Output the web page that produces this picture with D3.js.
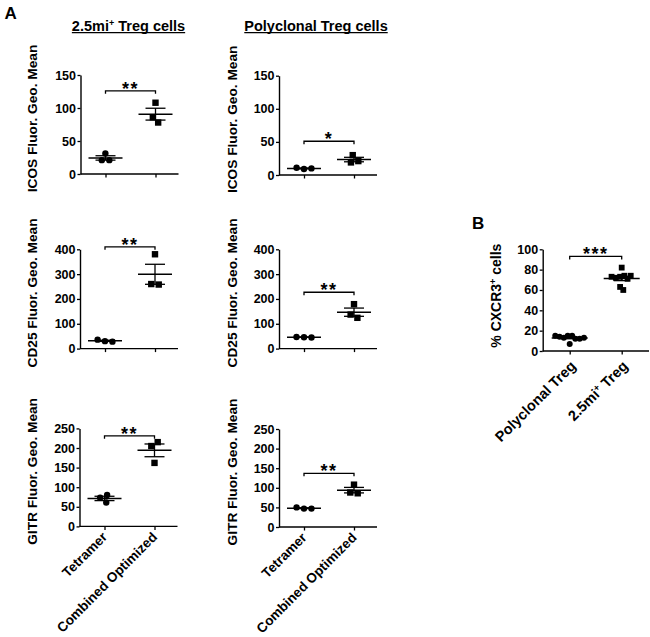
<!DOCTYPE html>
<html><head><meta charset="utf-8">
<script src="https://cdn.jsdelivr.net/npm/d3@7"></script>
<style>
body{margin:0;background:#fff}
svg{display:block}
text{font-family:Arial,"Liberation Sans",sans-serif;font-weight:bold;fill:#000}
</style>
</head><body>
<svg id="chart" width="650" height="637"></svg>
<script>
// ---------- data ----------
const groupsA = ["Tetramer", "Combined Optimized"];
const groupsB = ["Polyclonal Treg", "2.5mi+ Treg"];
const columnTitles = ["2.5mi+ Treg cells", "Polyclonal Treg cells"];
const markerTitles = ["ICOS Fluor. Geo. Mean", "CD25 Fluor. Geo. Mean", "GITR Fluor. Geo. Mean"];

const icosTregTetramer = [31, 21, 21];
const icosTregCombined = [108, 78, 86];
const icosPolyTetramer = [9, 11, 10];
const icosPolyCombined = [30, 19, 21];
const cd25TregTetramer = [30, 36, 28];
const cd25TregCombined = [380, 258, 260];
const cd25PolyTetramer = [46, 47, 45];
const cd25PolyCombined = [179, 124, 137];
const gitrTregTetramer = [80, 73, 61];
const gitrTregCombined = [215, 205, 162];
const gitrPolyTetramer = [47, 50, 47];
const gitrPolyCombined = [108, 86, 88];
const cxcr3Polyclonal = [15, 13, 15, 12, 14, 12, 15, 13, 7];
const cxcr3Treg = [82, 73, 72, 74, 71, 73, 74, 60, 63];

const yTicksICOS = [0, 50, 100, 150];
const yTicksCD25 = [0, 100, 200, 300, 400];
const yTicksGITR = [0, 50, 100, 150, 200, 250];
const yTicksCXCR3 = [0, 20, 40, 60, 80, 100];

const sigLabelsA = ["**", "*", "**", "**", "**", "**"];
const sigLevelsA = [126, 51, 410, 227, 231, 137];
const sigLabelB = "***";
const sigLevelB = 93;

// ---------- layout ----------
const svg = d3.select("#chart");
const panels = [
  {g:[icosTregTetramer, icosTregCombined], ticks:yTicksICOS, title:markerTitles[0], sig:sigLabelsA[0], lvl:sigLevelsA[0], ax:80.5, yb:174, yt:75, tx:37},
  {g:[icosPolyTetramer, icosPolyCombined], ticks:yTicksICOS, title:markerTitles[0], sig:sigLabelsA[1], lvl:sigLevelsA[1], ax:279, yb:175, yt:75.7, tx:237},
  {g:[cd25TregTetramer, cd25TregCombined], ticks:yTicksCD25, title:markerTitles[1], sig:sigLabelsA[2], lvl:sigLevelsA[2], ax:80, yb:348.6, yt:249.3, tx:37},
  {g:[cd25PolyTetramer, cd25PolyCombined], ticks:yTicksCD25, title:markerTitles[1], sig:sigLabelsA[3], lvl:sigLevelsA[3], ax:279, yb:348.6, yt:249.3, tx:237},
  {g:[gitrTregTetramer, gitrTregCombined], ticks:yTicksGITR, title:markerTitles[2], sig:sigLabelsA[4], lvl:sigLevelsA[4], ax:79.5, yb:526.4, yt:428.4, tx:37, labels:true},
  {g:[gitrPolyTetramer, gitrPolyCombined], ticks:yTicksGITR, title:markerTitles[2], sig:sigLabelsA[5], lvl:sigLevelsA[5], ax:279, yb:527, yt:429, tx:237, labels:true}
];

function beeswarm(values, y, d) {
  const placed = [];
  values.forEach(v => {
    const py = y(v);
    const cands = [0];
    placed.forEach(p => {
      const dy = Math.abs(p.py - py);
      if (dy < d) {
        const dx = Math.sqrt(d * d - dy * dy);
        cands.push(p.dx - dx, p.dx + dx);
      }
    });
    cands.sort((a, b) => (Math.abs(a) - Math.abs(b)) || (a - b));
    const ok = c => placed.every(p => Math.hypot(p.dx - c, p.py - py) >= d - 0.05);
    placed.push({v, py, dx: cands.find(ok)});
  });
  // center connected clusters
  const parent = placed.map((_, i) => i);
  const find = i => parent[i] === i ? i : (parent[i] = find(parent[i]));
  for (let i = 0; i < placed.length; i++)
    for (let j = i + 1; j < placed.length; j++)
      if (Math.hypot(placed[i].dx - placed[j].dx, placed[i].py - placed[j].py) < d + 0.5)
        parent[find(i)] = find(j);
  const groups = d3.group(placed.map((p, i) => i), i => find(i));
  groups.forEach(idx => {
    const m = d3.mean(idx, i => placed[i].dx);
    idx.forEach(i => placed[i].dx -= m);
  });
  return placed;
}

function addSup(textSel, str, supSize) {
  const parts = str.split("+");
  textSel.append("tspan").text(parts[0]);
  if (parts.length > 1) {
    textSel.append("tspan").attr("font-size", supSize).attr("dy", -5).text("+");
    textSel.append("tspan").attr("dy", 5).text(parts[1]);
  }
}

function drawPanel(p, opts) {
  const {cats, catOff, xEnd, d, r, sq, meanHW, capHW, labelSize, labelDx, labelDy, tickSize, titleSize, titleDy, starSize} = opts;
  const top = p.ticks[p.ticks.length - 1];
  const y = d3.scaleLinear().domain([0, top]).range([p.yb, p.yt]);
  const x = d3.scalePoint().domain(cats).range([p.ax + catOff[0], p.ax + catOff[1]]);
  const g = svg.append("g");

  // y axis
  const yAx = g.append("g").attr("transform", `translate(${p.ax},0)`)
    .call(d3.axisLeft(y).tickValues(p.ticks).tickSize(3).tickPadding(1.5).tickSizeOuter(0));
  yAx.select(".domain").attr("stroke-width", 1.4);
  yAx.selectAll(".tick line").attr("stroke-width", 1.3);
  yAx.selectAll("text").attr("font-size", tickSize).attr("font-family", "Arial, 'Liberation Sans', sans-serif").attr("font-weight", "bold");

  // x axis
  const xAx = g.append("g").attr("transform", `translate(0,${p.yb})`)
    .call(d3.axisBottom(x).tickSize(3.5).tickFormat(""));
  xAx.select(".domain").remove();
  g.append("line").attr("x1", p.ax).attr("x2", xEnd).attr("y1", p.yb).attr("y2", p.yb)
    .attr("stroke", "#000").attr("stroke-width", 1.4);
  xAx.selectAll(".tick line").attr("stroke-width", 1.3);

  // points
  p.g.forEach((vals, gi) => {
    const cx = x(cats[gi]);
    const pts = beeswarm(vals, y, d);
    if (gi === 0) {
      g.selectAll(null).data(pts).enter().append("circle")
        .attr("cx", q => cx + q.dx).attr("cy", q => q.py).attr("r", r).attr("fill", "#000");
    } else {
      g.selectAll(null).data(pts).enter().append("rect")
        .attr("x", q => cx + q.dx - sq / 2).attr("y", q => q.py - sq / 2)
        .attr("width", sq).attr("height", sq).attr("fill", "#000");
    }
    const m = d3.mean(vals);
    const sem = d3.deviation(vals) / Math.sqrt(vals.length);
    const lg = g.append("g").attr("stroke", "#000");
    lg.append("line").attr("x1", cx - meanHW).attr("x2", cx + meanHW).attr("y1", y(m)).attr("y2", y(m)).attr("stroke-width", 1.5);
    lg.append("line").attr("x1", cx).attr("x2", cx).attr("y1", y(m + sem)).attr("y2", y(m - sem)).attr("stroke-width", 1.3);
    [m + sem, m - sem].forEach(v =>
      lg.append("line").attr("x1", cx - capHW).attr("x2", cx + capHW).attr("y1", y(v)).attr("y2", y(v)).attr("stroke-width", 1.3));
  });

  // significance bracket
  const by = y(p.lvl), bx1 = x(cats[0]), bx2 = x(cats[1]);
  g.append("path").attr("d", `M${bx1},${by + 3}V${by}H${bx2}V${by + 3}`)
    .attr("fill", "none").attr("stroke", "#000").attr("stroke-width", 1.3);
  g.append("text").attr("x", (bx1 + bx2) / 2).attr("y", by + 3.8).attr("text-anchor", "middle")
    .attr("font-size", starSize).attr("letter-spacing", 1.5).text(p.sig);

  // y title
  const cy = (p.yb + p.yt) / 2 + titleDy;
  const t = g.append("text").attr("transform", `translate(${p.tx},${cy}) rotate(-90)`)
    .attr("text-anchor", "middle").attr("font-size", titleSize);
  addSup(t, p.title, 9);

  // x labels
  if (p.labels) {
    cats.forEach(c => {
      const axp = x(c) + labelDx, ayp = p.yb + labelDy;
      const lt = g.append("text").attr("transform", `translate(${axp},${ayp}) rotate(-45)`)
        .attr("text-anchor", "end").attr("font-size", labelSize);
      addSup(lt, c, 9.5);
    });
  }
}

const optsA = {cats: groupsA, catOff: [25, 75], d: 7.5, r: 3.2, sq: 6.4, meanHW: 17, capHW: 10,
  labelSize: 13.5, labelDx: 3.5, labelDy: 11.5, tickSize: 12.5, titleSize: 13.7, titleDy: -6, starSize: 18};
panels.forEach(p => drawPanel(p, Object.assign({}, optsA, {xEnd: p.ax + 98})));

drawPanel({g: [cxcr3Polyclonal, cxcr3Treg], ticks: yTicksCXCR3, title: "% CXCR3+ cells", sig: sigLabelB, lvl: sigLevelB,
  ax: 542.7, yb: 351, yt: 249.3, tx: 501, labels: true},
  {cats: groupsB, catOff: [27, 79], xEnd: 649, d: 4.4, r: 3, sq: 5.8, meanHW: 18, capHW: 8,
   labelSize: 14.5, labelDx: 7, labelDy: 16, tickSize: 12.5, titleSize: 14, titleDy: -4.5, starSize: 18});

// column titles (underlined)
[[128.5, columnTitles[0]], [316, columnTitles[1]]].forEach(([cx, s]) => {
  const t = svg.append("text").attr("x", cx).attr("y", 31).attr("text-anchor", "middle").attr("font-size", 14.5);
  addSup(t, s, 9);
  const bb = t.node().getBBox();
  svg.append("line").attr("x1", bb.x).attr("x2", bb.x + bb.width).attr("y1", 32.6).attr("y2", 32.6)
    .attr("stroke", "#000").attr("stroke-width", 1.2);
});

// panel letters
svg.append("text").attr("x", 4.5).attr("y", 18.5).attr("font-size", 17).text("A");
svg.append("text").attr("x", 472).attr("y", 229).attr("font-size", 17).text("B");
</script>
</body></html>
